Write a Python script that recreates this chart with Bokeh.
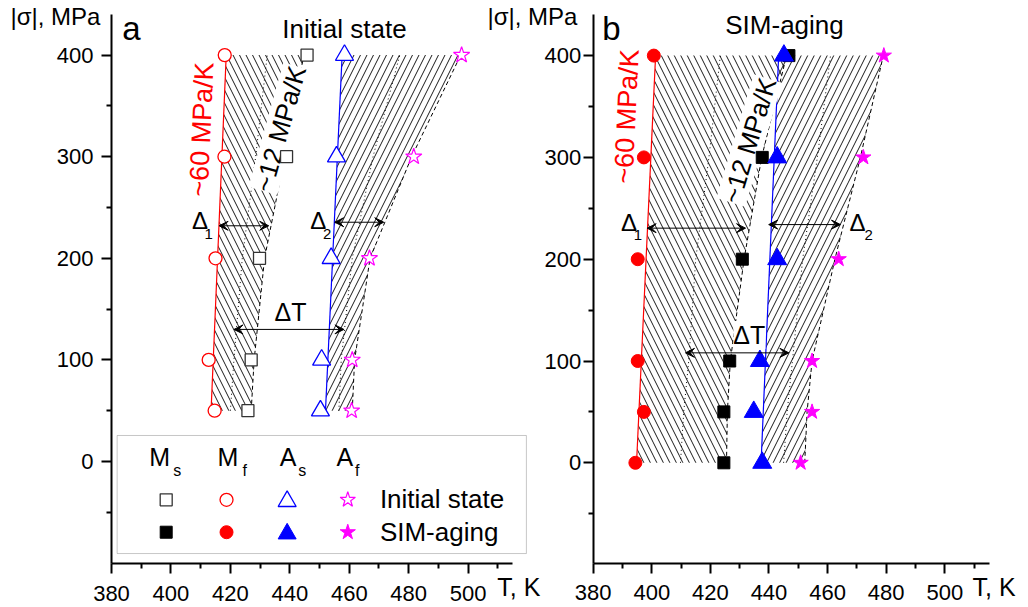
from bokeh.plotting import figure
from bokeh.models import Range1d, FixedTicker, Label, Arrow, VeeHead, BoxAnnotation
from bokeh.core.properties import value
from bokeh.layouts import row
from bokeh.embed import file_html
from bokeh.resources import INLINE

FONT = "Liberation Sans"

# ---------------- data: panel a (initial state) ----------------
sigma_init = [50, 100, 200, 300, 400]
ms_init = [425.9, 427.0, 429.8, 438.9, 445.8]
mf_init = [414.7, 412.7, 415.0, 418.0, 418.1]
as_init = [450.3, 450.7, 453.9, 455.7, 458.4]
af_init = [460.8, 461.0, 466.8, 481.7, 497.8]

fit_sigma_init = [50, 400]
mf_fit_init = [413.5, 418.6]
as_fit_init = [452.0, 457.6]
ms_bound_init = [427.0, 428.0, 431.5, 438.3, 444.7]
af_bound_init = [461.0, 461.8, 467.0, 481.0, 497.5]
dot1_init = [420.0, 421.2, 424.0, 428.5, 432.4]
dot2_init = [456.5, 457.3, 461.0, 468.0, 477.0]

# ---------------- data: panel b (SIM-aging) ----------------
sigma_sim = [0, 50, 100, 200, 300, 400]
ms_sim = [424.6, 424.6, 426.6, 430.9, 437.7, 446.8]
mf_sim = [394.4, 397.3, 395.2, 395.2, 397.3, 400.7]
as_sim = [437.7, 434.8, 436.9, 442.8, 442.8, 445.1]
af_sim = [450.8, 454.7, 454.7, 463.8, 472.2, 479.2]

fit_sigma_sim = [0, 400]
mf_fit_sim = [394.8, 401.3]
as_fit_sim = [437.3, 443.3]
ms_bound_sim = [425.5, 425.8, 426.8, 431.5, 437.5, 446.0]
af_bound_sim = [452.2, 453.0, 454.7, 462.5, 471.2, 479.0]
dot1_sim = [409.8, 410.9, 412.6, 415.0, 419.5, 423.4]
dot2_sim = [445.0, 446.2, 448.0, 451.5, 456.5, 461.0]

x_ticks = [380, 400, 420, 440, 460, 480, 500]
x_minor = [390, 410, 430, 450, 470, 490, 510]
y_ticks = [0, 100, 200, 300, 400]
y_minor = [-50, 50, 150, 250, 350]

RED = "#ff0000"
BLUE = "#0000ff"
MAG = "#ff00ff"
GREY = "#333333"

H = 606


def make_fig(width, xr, yr, xbounds, ybounds, ystand):
    # the frame fills the whole canvas; the axes are pinned at the data origin
    p = figure(width=width, height=H, x_range=Range1d(*xr), y_range=Range1d(*yr),
               output_backend="svg", toolbar_location=None, min_border=0)
    p.outline_line_color = None
    p.grid.visible = False
    for ax in (p.xaxis[0], p.yaxis[0]):
        ax.axis_line_width = 2
        ax.axis_line_color = "black"
        ax.major_tick_line_width = 2
        ax.minor_tick_line_width = 2
        ax.major_tick_out = 10
        ax.major_tick_in = 0
        ax.minor_tick_out = 5
        ax.minor_tick_in = 0
        ax.major_label_text_font = FONT
        ax.major_label_text_font_size = "22px"
        ax.major_label_text_color = "black"
    p.xaxis[0].ticker = FixedTicker(ticks=x_ticks, minor_ticks=x_minor)
    p.yaxis[0].ticker = FixedTicker(ticks=y_ticks, minor_ticks=y_minor)
    p.xaxis[0].bounds = xbounds
    p.yaxis[0].bounds = ybounds
    p.xaxis[0].fixed_location = ybounds[0]
    p.yaxis[0].fixed_location = xbounds[0]
    p.xaxis[0].major_label_standoff = 12
    p.yaxis[0].major_label_standoff = ystand
    return p


def lab(p, x, y, text, size, color="black", align="left", angle=0, bg=None):
    # y is the vertical middle of the text
    p.add_layout(Label(x=x, y=y, text=text, text_font=FONT, text_font_size=f"{size}px",
                       text_color=color, text_align=align, text_baseline="middle",
                       angle=angle, angle_units="deg", background_fill_color=bg))


def slope_text(p, x, y, text, angle):
    # drawn as a glyph (before the markers) so the data markers stay on top
    p.text(x=[x], y=[y], text=[text], angle=angle, angle_units="deg",
           text_font=value(FONT), text_font_size=value("26px"), text_color="black",
           text_align="center", text_baseline="middle", background_fill_color="white")


def arrow(p, x0, x1, y):
    p.add_layout(Arrow(start=VeeHead(size=9, fill_color="black", line_color="black", line_width=1),
                       end=VeeHead(size=9, fill_color="black", line_color="black", line_width=1),
                       x_start=x0, y_start=y, x_end=x1, y_end=y,
                       line_width=1, line_color="black"))


def hatch(p, x_left, y_left, x_right, y_right, pattern):
    xs = list(x_left) + list(reversed(x_right))
    ys = list(y_left) + list(reversed(y_right))
    p.patch(xs, ys, fill_color=None, line_alpha=0, hatch_pattern=pattern,
            hatch_color="black", hatch_scale=13, hatch_weight=0.9)


def delta(p, x, y, sub, xs, ys, size=24):
    lab(p, x, y, "\u0394", size, align="center")
    lab(p, xs, ys, sub, 15, align="center")


# ================= panel a =================
p1 = make_fig(550, (342.65, 527.71), (-142.72, 453.74), (380, 514.9), (-100.4, 440.0), 8)

hatch(p1, mf_fit_init, fit_sigma_init, ms_bound_init, sigma_init, "\\")
hatch(p1, as_fit_init, fit_sigma_init, af_bound_init, sigma_init, "/")
p1.line(dot1_init, sigma_init, line_color="black", line_width=1, line_dash="1 3")
p1.line(dot2_init, sigma_init, line_color="black", line_width=1, line_dash="1 3")
p1.line(ms_bound_init, sigma_init, line_color="black", line_width=1, line_dash="4 3")
p1.line(af_bound_init, sigma_init, line_color="black", line_width=1, line_dash="4 3")
p1.line(mf_fit_init, fit_sigma_init, line_color=RED, line_width=1.2)
p1.line(as_fit_init, fit_sigma_init, line_color=BLUE, line_width=1.2)
slope_text(p1, 436.8, 327.5, "~12 MPa/K", 74.3)

p1.scatter(ms_init, sigma_init, marker="square", size=12, line_color=GREY, line_width=1.3, fill_color="white")
p1.scatter(mf_init, sigma_init, marker="circle", size=13, line_color=RED, line_width=1.3, fill_color="white")
p1.scatter(as_init, sigma_init, marker="triangle", size=18, line_color=BLUE, line_width=1.3, fill_color="white")
p1.scatter(af_init, sigma_init, marker="star", size=17, line_color=MAG, line_width=1.2, fill_color="white")

arrow(p1, 416.2, 432.9, 232)
arrow(p1, 455.1, 471.6, 235.5)
arrow(p1, 421.2, 458.2, 130)
delta(p1, 409.8, 237.3, "1", 412.7, 224.3)
delta(p1, 449.6, 237.3, "2", 452.6, 224.3)
lab(p1, 440.2, 147.4, "\u0394T", 25, align="center")

lab(p1, 410.3, 326.8, "~60 MPa/K", 27, color=RED, align="center", angle=87.3)

lab(p1, 458.4, 426.0, "Initial state", 26, align="center")
lab(p1, 383.6, 425.8, "a", 33)
lab(p1, 346.0, 438.4, "|\u03c3|, MPa", 24)
lab(p1, 509.8, -123.2, "T, K", 25)

# legend
p1.add_layout(BoxAnnotation(left=381.9, right=519.6, top=25.6, bottom=-90.6, level="underlay",
                            fill_color="white", fill_alpha=1, line_color="#444444", line_width=1))
leg_cols = [398.4, 418.7, 439.1, 459.5]
row1, row2 = -37.7, -69.6
p1.scatter([leg_cols[0]], [row1], marker="square", size=12, line_color=GREY, line_width=1.3, fill_color="white")
p1.scatter([leg_cols[1]], [row1], marker="circle", size=13, line_color=RED, line_width=1.3, fill_color="white")
p1.scatter([leg_cols[2]], [row1 - 1.5], marker="triangle", size=18, line_color=BLUE, line_width=1.3, fill_color="white")
p1.scatter([leg_cols[3]], [row1], marker="star", size=16, line_color=MAG, line_width=1.2, fill_color="white")
p1.scatter([leg_cols[0]], [row2], marker="square", size=12, line_color="black", fill_color="black")
p1.scatter([leg_cols[1]], [row2], marker="circle", size=13, line_color=RED, fill_color=RED)
p1.scatter([leg_cols[2]], [row2 - 1.5], marker="triangle", size=18, line_color=BLUE, fill_color=BLUE)
p1.scatter([leg_cols[3]], [row2], marker="star", size=16, line_color=MAG, fill_color=MAG)
heads = [("M", "s", 396.2, 402.1), ("M", "f", 419.2, 424.8), ("A", "s", 439.4, 444.2), ("A", "f", 458.5, 462.7)]
for big, small, xb, xsml in heads:
    lab(p1, xb, 4.0, big, 25, align="center")
    lab(p1, xsml, -9.3, small, 16, align="center")
lab(p1, 470.3, -36.6, "Initial state", 26)
lab(p1, 470.3, -69.1, "SIM-aging", 26)

# ================= panel b =================
p2 = make_fig(540, (341.54, 525.84), (-141.16, 454.13), (380, 515.2), (-98.9, 440.4), 2)
p2.background_fill_alpha = 0
p2.border_fill_alpha = 0
p2.margin = (0, 0, 0, -70)

hatch(p2, mf_fit_sim, fit_sigma_sim, ms_bound_sim, sigma_sim, "\\")
hatch(p2, as_fit_sim, fit_sigma_sim, af_bound_sim, sigma_sim, "/")
p2.line(dot1_sim, sigma_sim, line_color="black", line_width=1, line_dash="1 3")
p2.line(dot2_sim, sigma_sim, line_color="black", line_width=1, line_dash="1 3")
p2.line(ms_bound_sim, sigma_sim, line_color="black", line_width=1, line_dash="4 3")
p2.line(af_bound_sim, sigma_sim, line_color="black", line_width=1, line_dash="4 3")
p2.line(mf_fit_sim, fit_sigma_sim, line_color=RED, line_width=1.2)
p2.line(as_fit_sim, fit_sigma_sim, line_color=BLUE, line_width=1.2)
slope_text(p2, 433.3, 316.6, "~12 MPa/K", 73.2)

p2.scatter(ms_sim, sigma_sim, marker="square", size=12, line_color="black", fill_color="black")
p2.scatter(mf_sim, sigma_sim, marker="circle", size=13, line_color=RED, fill_color=RED)
p2.scatter(as_sim, sigma_sim, marker="triangle", size=19, line_color=BLUE, fill_color=BLUE)
p2.scatter(af_sim, sigma_sim, marker="star", size=16, line_color=MAG, fill_color=MAG)

arrow(p2, 398.4, 432.0, 230.5)
arrow(p2, 439.9, 464.4, 234)
arrow(p2, 411.5, 446.8, 108)
delta(p2, 392.2, 236.4, "1", 395.3, 223.5)
delta(p2, 470.2, 236.4, "2", 474.0, 223.5)
lab(p2, 433.3, 125.5, "\u0394T", 25, align="center", bg="white")

lab(p2, 391.4, 340.2, "~60 MPa/K", 27, color=RED, align="center", angle=87.3)

lab(p2, 445.3, 430.4, "SIM-aging", 26, align="center")
lab(p2, 383.1, 426.2, "b", 33)
lab(p2, 343.9, 438.8, "|\u03c3|, MPa", 24)
lab(p2, 509.5, -121.7, "T, K", 25)

layout = row(p1, p2)
open("out.html", "w").write(file_html(layout, INLINE))
